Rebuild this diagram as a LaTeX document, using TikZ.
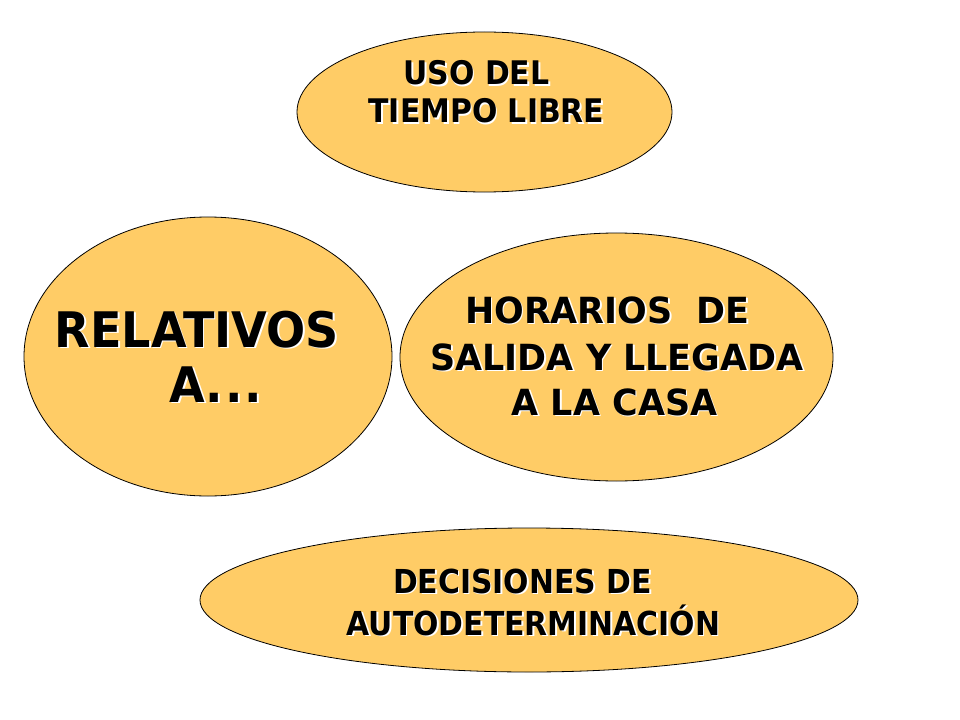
\documentclass[tikz,border=0pt]{standalone}
\usepackage{fontspec}
\setmainfont[FakeStretch=0.9]{DejaVu Sans}
\newfontfamily\fa[FakeStretch=0.92]{DejaVu Sans}
\newfontfamily\fb[FakeStretch=0.94]{DejaVu Sans}
\newfontfamily\fc[FakeStretch=0.97]{DejaVu Sans}
\newfontfamily\fd[FakeStretch=0.905]{DejaVu Sans}
\usetikzlibrary{shapes.geometric}
\definecolor{fillc}{HTML}{FFCC66}
\newcommand\mylbl[5]{%
  \node[txt,text=white,font=#4\bfseries] (#1s) at (#2+1.6,#3+1.6) {#5};
  \node[txt,font=#4\bfseries] (#1) at (#2,#3) {#5};}
\begin{document}
\begin{tikzpicture}[x=1bp,y=-1bp,
  blob/.style={ellipse,draw=black,line width=0.8bp,fill=fillc,inner sep=0pt},
  txt/.style={inner sep=0pt,anchor=base,text=black}]
\useasboundingbox (0,0) rectangle (960,720);
\fill[white] (0,0) rectangle (960,720);
\node[blob,minimum width=375bp,minimum height=160bp] (tiempo) at (484.5,112) {};
\node[blob,minimum width=368bp,minimum height=279bp] (relativos) at (208,356.5) {};
\node[blob,minimum width=433bp,minimum height=248bp] (horarios) at (616.5,357) {};
\node[blob,minimum width=658bp,minimum height=144bp] (decisiones) at (529,600) {};
\mylbl{t1}{476.5}{85}{\fa\fontsize{32.5bp}{32.5bp}\selectfont}{USO DEL}
\mylbl{t2}{486.5}{123}{\fa\fontsize{32.5bp}{32.5bp}\selectfont}{TIEMPO LIBRE}
\mylbl{r1}{197}{347}{\fb\fontsize{49bp}{49bp}\selectfont}{RELATIVOS}
\mylbl{r2}{216}{402}{\fb\fontsize{49bp}{49bp}\selectfont}{A.\kern2bp.\kern2bp.}
\mylbl{h1}{607.5}{323}{\fc\fontsize{36bp}{36bp}\selectfont}{HORARIOS~~DE}
\mylbl{h2}{617}{370}{\fc\fontsize{36bp}{36bp}\selectfont}{SALIDA Y LLEGADA}
\mylbl{h3}{614.5}{415}{\fc\fontsize{36bp}{36bp}\selectfont}{A LA CASA}
\mylbl{d1}{522.5}{593}{\fd\fontsize{33bp}{33bp}\selectfont}{DECISIONES DE}
\mylbl{d2}{533.5}{635}{\fd\fontsize{33bp}{33bp}\selectfont}{AUTODETERMINACIÓN}
\end{tikzpicture}
\end{document}
